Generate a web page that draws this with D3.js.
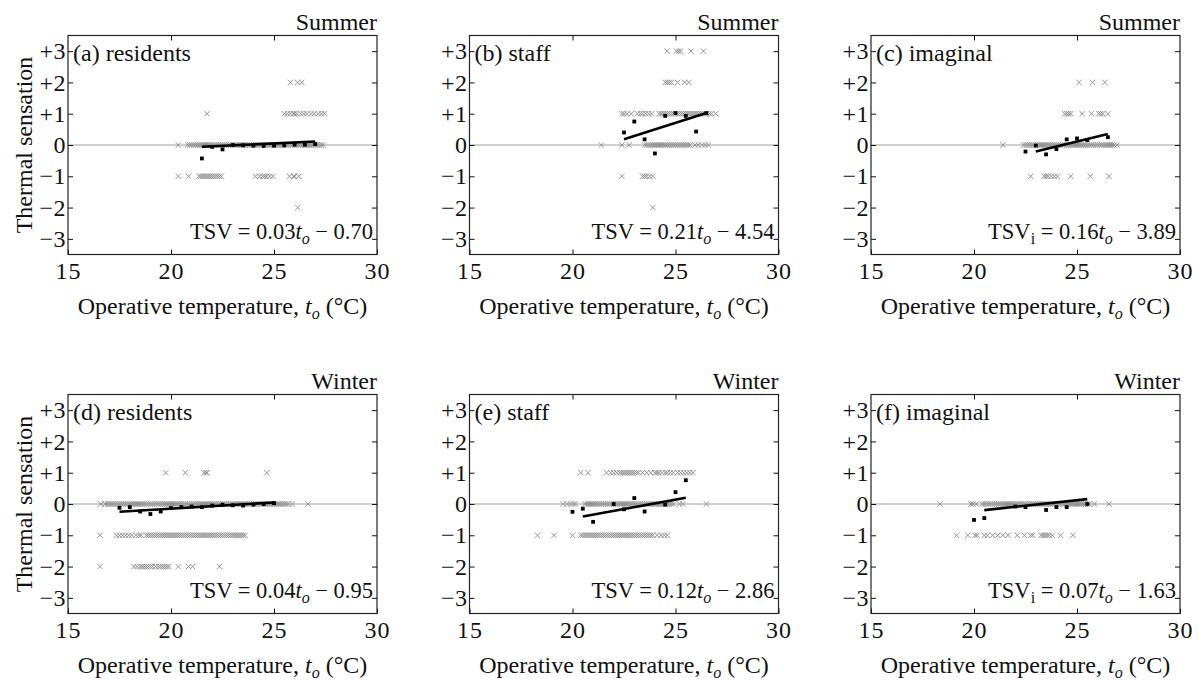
<!DOCTYPE html>
<html>
<head>
<meta charset="utf-8">
<script src="https://cdn.jsdelivr.net/npm/d3@7"></script>
<style>
  body { margin: 0; background: #fff; }
  svg { display: block; }
</style>
</head>
<body>
<svg id="chart" width="1199" height="681"></svg>
<script>
// ---- axes ----
const xTicks = [15, 20, 25, 30];
const xInnerTicks = [20, 25];
const yTicks = [-3, -2, -1, 0, 1, 2, 3];
const yTickLabels = ["\u22123", "\u22122", "\u22121", "0", "+1", "+2", "+3"];

// ---- individual votes: operative temperature (°C) of every vote, per vote level ----
// (a) summer, residents
const sumResP2 = [25.8, 26.15, 26.35];
const sumResP1 = [21.75, 25.5, 25.65, 25.8, 25.95, 26.0, 26.1, 26.3, 26.45, 26.6, 26.8, 26.95, 27.15, 27.3, 27.45];
const sumRes0 = [20.35, 20.8, 20.9, 21.0, 21.1, 21.2, 21.3, 21.4, 21.5, 21.6, 21.7, 21.8, 21.9, 22.0, 22.1, 22.2, 22.3, 22.4, 22.5, 22.6, 22.7, 22.8, 22.9, 23.0, 23.1, 23.2, 23.3, 23.4, 23.5, 23.6, 23.7, 23.8, 23.9, 24.0, 24.1, 24.2, 24.3, 24.4, 24.5, 24.6, 24.7, 24.8, 24.9, 25.0, 25.1, 25.2, 25.3, 25.4, 25.5, 25.6, 25.7, 25.8, 25.9, 26.0, 26.1, 26.2, 26.3, 26.4, 26.5, 26.6, 26.7, 26.8, 26.9, 27.0, 27.1, 27.2, 27.3, 27.4];
const sumResM1 = [20.35, 20.85, 21.35, 21.45, 21.55, 21.65, 21.75, 21.85, 21.95, 22.05, 22.15, 22.25, 22.35, 22.45, 24.1, 24.3, 24.45, 24.55, 24.65, 24.8, 24.95, 25.75, 25.95, 26.0, 26.2];
const sumResM2 = [26.15];

// (b) summer, staff
const sumStaP3 = [24.6, 25.05, 25.15, 25.25, 25.75, 26.35];
const sumStaP2 = [24.5, 24.6, 24.7, 24.8, 25.1, 25.45, 25.65];
const sumStaP1 = [22.4, 22.5, 22.65, 22.85, 23.15, 23.3, 23.4, 23.55, 23.7, 23.85, 24.2, 24.3, 24.4, 24.5, 24.6, 24.7, 24.8, 24.9, 25.0, 25.1, 25.2, 25.3, 25.4, 25.5, 25.6, 25.7, 25.8, 25.9, 26.0, 26.1, 26.2, 26.3, 26.4, 26.5, 26.65, 26.75, 26.95];
const sumSta0 = [21.4, 22.4, 22.75, 23.5, 23.6, 23.7, 23.8, 23.9, 24.0, 24.1, 24.2, 24.3, 24.4, 24.5, 24.6, 24.7, 24.8, 24.9, 25.0, 25.1, 25.2, 25.3, 25.4, 25.5, 25.6, 25.7, 25.95, 26.1, 26.3, 26.45, 26.6];
const sumStaM1 = [22.4, 23.4, 23.5, 23.6, 23.75, 23.9];
const sumStaM2 = [23.9];

// (c) summer, imaginal
const sumImgP2 = [25.1, 25.75, 26.35];
const sumImgP1 = [24.4, 24.5, 24.6, 24.7, 25.25, 25.7, 26.05, 26.15, 26.25, 26.5];
const sumImg0 = [21.4, 22.4, 22.5, 22.6, 22.7, 22.8, 22.9, 23.0, 23.1, 23.2, 23.3, 23.4, 23.5, 23.6, 23.7, 23.8, 23.9, 24.0, 24.1, 24.2, 24.3, 24.4, 24.5, 24.6, 24.7, 24.8, 24.9, 25.0, 25.1, 25.2, 25.3, 25.4, 25.5, 25.6, 25.7, 25.8, 25.9, 26.0, 26.1, 26.2, 26.3, 26.4, 26.5, 26.6, 26.7, 26.8, 26.95];
const sumImgM1 = [22.75, 23.4, 23.5, 23.6, 23.75, 23.9, 24.05, 24.7, 25.65, 26.55];

// (d) winter, residents
const winResP1 = [19.75, 20.7, 21.6, 21.7, 21.75, 24.65];
const winRes0 = [16.6, 16.8, 16.9, 17.0, 17.1, 17.2, 17.3, 17.4, 17.5, 17.6, 17.7, 17.8, 17.9, 18.0, 18.1, 18.2, 18.3, 18.4, 18.5, 18.6, 18.7, 18.8, 18.9, 19.0, 19.1, 19.2, 19.3, 19.4, 19.5, 19.6, 19.7, 19.8, 19.9, 20.0, 20.1, 20.2, 20.3, 20.4, 20.5, 20.6, 20.7, 20.8, 20.9, 21.0, 21.1, 21.2, 21.3, 21.4, 21.5, 21.6, 21.7, 21.8, 21.9, 22.0, 22.1, 22.2, 22.3, 22.4, 22.5, 22.6, 22.7, 22.8, 22.9, 23.0, 23.1, 23.2, 23.3, 23.4, 23.5, 23.6, 23.7, 23.8, 23.9, 24.0, 24.1, 24.2, 24.3, 24.4, 24.5, 24.6, 24.7, 24.8, 24.9, 25.0, 25.1, 25.2, 25.3, 25.4, 25.5, 25.6, 25.7, 25.9, 26.65];
const winResM1 = [16.55, 17.35, 17.5, 17.65, 17.8, 17.95, 18.1, 18.3, 18.45, 18.55, 18.8, 18.9, 19.0, 19.1, 19.2, 19.3, 19.4, 19.5, 19.6, 19.7, 19.8, 19.9, 20.0, 20.1, 20.2, 20.3, 20.4, 20.5, 20.6, 20.7, 20.8, 20.9, 21.0, 21.1, 21.2, 21.3, 21.4, 21.5, 21.6, 21.7, 21.8, 21.9, 22.0, 22.1, 22.2, 22.3, 22.4, 22.5, 22.6, 22.7, 22.8, 22.9, 23.0, 23.1, 23.2, 23.3, 23.4, 23.5, 23.6];
const winResM2 = [16.55, 18.2, 18.35, 18.5, 18.6, 18.7, 18.8, 18.9, 19.0, 19.1, 19.25, 19.4, 19.5, 19.6, 19.7, 19.8, 19.9, 20.35, 20.85, 21.05, 22.35];

// (e) winter, staff
const winStaP1 = [20.4, 20.75, 21.65, 21.85, 22.0, 22.15, 22.3, 22.4, 22.5, 22.6, 22.7, 22.8, 22.9, 23.0, 23.1, 23.2, 23.4, 23.6, 23.8, 24.0, 24.1, 24.2, 24.35, 24.5, 24.6, 24.75, 24.9, 25.1, 25.25, 25.4, 25.55, 25.7, 25.85];
const winSta0 = [19.55, 19.75, 19.9, 20.05, 20.15, 20.6, 20.7, 20.8, 20.9, 21.0, 21.1, 21.2, 21.3, 21.4, 21.5, 21.6, 21.7, 21.8, 21.9, 22.0, 22.1, 22.2, 22.3, 22.4, 22.5, 22.6, 22.7, 22.8, 22.9, 23.0, 23.1, 23.2, 23.3, 23.4, 23.5, 23.6, 23.7, 23.8, 23.9, 24.0, 24.1, 24.2, 24.3, 24.4, 24.5, 24.6, 24.7, 24.8, 24.9, 25.2, 25.35, 26.5];
const winStaM1 = [18.3, 19.1, 20.0, 20.4, 20.5, 20.6, 20.7, 20.8, 20.9, 21.0, 21.1, 21.2, 21.3, 21.4, 21.5, 21.6, 21.7, 21.8, 21.9, 22.0, 22.1, 22.2, 22.3, 22.4, 22.5, 22.6, 22.7, 22.8, 22.9, 23.0, 23.1, 23.2, 23.3, 23.4, 23.5, 23.6, 23.7, 23.8, 23.9, 24.1, 24.3, 24.45, 24.6];

// (f) winter, imaginal
const winImg0 = [18.35, 19.85, 19.95, 20.1, 20.4, 20.5, 20.6, 20.7, 20.8, 20.9, 21.0, 21.1, 21.2, 21.3, 21.4, 21.5, 21.6, 21.7, 21.8, 21.9, 22.0, 22.1, 22.2, 22.3, 22.4, 22.5, 22.6, 22.7, 22.8, 22.9, 23.0, 23.1, 23.2, 23.3, 23.4, 23.5, 23.6, 23.7, 23.8, 23.9, 24.0, 24.1, 24.2, 24.3, 24.4, 24.5, 24.6, 24.7, 24.8, 24.9, 25.0, 25.1, 25.2, 25.3, 25.4, 25.5, 25.6, 25.85, 26.55];
const winImgM1 = [19.15, 19.7, 20.05, 20.15, 20.5, 20.65, 20.9, 21.15, 21.4, 21.65, 22.1, 22.45, 22.75, 22.85, 23.25, 23.35, 23.45, 23.55, 23.65, 23.8, 24.2, 24.8];

// ---- mean vote per 0.5 °C bin ----
const sumResBinT = [21.5, 22, 22.5, 23, 23.5, 24, 24.5, 25, 25.5, 26, 26.5, 27];
const sumResBinV = [-0.43, -0.06, -0.14, 0.0, -0.01, -0.02, -0.03, -0.02, -0.01, 0.01, 0.01, 0.03];
const sumStaBinT = [22.5, 23, 23.5, 24, 24.5, 25, 25.5, 26, 26.5];
const sumStaBinV = [0.40, 0.75, 0.18, -0.27, 0.93, 1.02, 0.93, 0.43, 1.02];
const sumImgBinT = [22.5, 23, 23.5, 24, 24.5, 25, 25.5, 26.5];
const sumImgBinV = [-0.21, -0.02, -0.30, -0.13, 0.18, 0.21, 0.16, 0.25];
const winResBinT = [17.5, 18, 18.5, 19, 19.5, 20, 20.5, 21, 21.5, 22, 22.5, 23, 23.5, 24, 24.5, 25];
const winResBinV = [-0.12, -0.10, -0.24, -0.32, -0.24, -0.13, -0.10, -0.08, -0.10, -0.05, -0.02, -0.04, -0.05, -0.02, 0.0, 0.03];
const winStaBinT = [20, 20.5, 21, 22, 22.5, 23, 23.5, 24.5, 25, 25.5];
const winStaBinV = [-0.25, -0.15, -0.57, 0.0, -0.17, 0.19, -0.24, -0.02, 0.38, 0.76];
const winImgBinT = [20, 20.5, 22, 22.5, 23.5, 24, 24.5, 25.5];
const winImgBinV = [-0.51, -0.45, -0.08, -0.10, -0.19, -0.10, -0.10, 0.0];

// ---- regression lines: TSV = slope * to + intercept ----
const fitSlope = [0.03, 0.21, 0.16, 0.04, 0.12, 0.07];
const fitIntercept = [-0.70, -4.54, -3.89, -0.95, -2.86, -1.63];
const fitFrom = [21.5, 22.5, 23.0, 17.5, 20.5, 20.5];
const fitTo = [27.0, 26.5, 26.5, 25.0, 25.5, 25.5];

const panelLabels = ["(a) residents", "(b) staff", "(c) imaginal", "(d) residents", "(e) staff", "(f) imaginal"];
const seasons = ["Summer", "Summer", "Summer", "Winter", "Winter", "Winter"];
const imaginal = [false, false, true, false, false, true];

const votes = [
  [[2, sumResP2], [1, sumResP1], [0, sumRes0], [-1, sumResM1], [-2, sumResM2]],
  [[3, sumStaP3], [2, sumStaP2], [1, sumStaP1], [0, sumSta0], [-1, sumStaM1], [-2, sumStaM2]],
  [[2, sumImgP2], [1, sumImgP1], [0, sumImg0], [-1, sumImgM1]],
  [[1, winResP1], [0, winRes0], [-1, winResM1], [-2, winResM2]],
  [[1, winStaP1], [0, winSta0], [-1, winStaM1]],
  [[0, winImg0], [-1, winImgM1]]
];
const binT = [sumResBinT, sumStaBinT, sumImgBinT, winResBinT, winStaBinT, winImgBinT];
const binV = [sumResBinV, sumStaBinV, sumImgBinV, winResBinV, winStaBinV, winImgBinV];

// ---- layout ----
const W = 309, H = 219;
const colX = [68, 469.5, 871];
const rowY = [35.5, 394.5];
const FONT = "'Liberation Serif', 'Times New Roman', Times, serif";
const FS = 24;      // labels and titles
const FS_EQ = 22.5; // regression equations
const FS_TICK = 24;

const svg = d3.select("#chart");
svg.append("rect").attr("width", 1199).attr("height", 681).attr("fill", "#fff");

const x = d3.scaleLinear().domain([15, 30]).range([0, W]);
const y = d3.scaleLinear().domain([-3.5, 3.5]).range([H, 0]);

const crossPath = "M-2.7,-2.7L2.7,2.7M-2.7,2.7L2.7,-2.7";

// Adds "t" with italic subscript "o" to a text element
function addTo(text) {
  text.append("tspan").attr("font-style", "italic").text("t");
  text.append("tspan").attr("font-style", "italic").attr("font-size", 16).attr("dy", 5).text("o");
}

for (let i = 0; i < 6; i++) {
  const col = i % 3, row = Math.floor(i / 3);
  const g = svg.append("g").attr("transform", `translate(${colX[col]},${rowY[row]})`);

  // zero reference line
  g.append("line")
    .attr("x1", 0).attr("x2", W)
    .attr("y1", y(0)).attr("y2", y(0))
    .attr("stroke", "#a0a0a0").attr("stroke-width", 1);

  // individual votes
  const pts = [];
  votes[i].forEach(([v, ts]) => ts.forEach(t => pts.push({ t, v })));
  g.append("g").selectAll("path").data(pts).join("path")
    .attr("d", crossPath)
    .attr("transform", d => `translate(${x(d.t)},${y(d.v)})`)
    .attr("fill", "none")
    .attr("stroke", "#8a8a8a")
    .attr("stroke-width", 0.9);

  // regression line
  const fit = t => fitSlope[i] * t + fitIntercept[i];
  g.append("line")
    .attr("x1", x(fitFrom[i])).attr("y1", y(fit(fitFrom[i])))
    .attr("x2", x(fitTo[i])).attr("y2", y(fit(fitTo[i])))
    .attr("stroke", "#000").attr("stroke-width", 2.6).attr("stroke-linecap", "butt");

  // bin means
  const means = binT[i].map((t, k) => ({ t, v: binV[i][k] }));
  g.append("g").selectAll("rect").data(means).join("rect")
    .attr("x", d => x(d.t) - 1.9).attr("y", d => y(d.v) - 1.9)
    .attr("width", 3.8).attr("height", 3.8)
    .attr("fill", "#000");

  // ticks
  const yl = g.append("g").call(d3.axisLeft(y).tickValues(yTicks).tickSizeInner(-5).tickSizeOuter(0)
    .tickPadding(2).tickFormat((d, k) => yTickLabels[k]));
  const yr = g.append("g").attr("transform", `translate(${W},0)`)
    .call(d3.axisRight(y).tickValues(yTicks).tickSizeInner(-5).tickSizeOuter(0).tickFormat(""));
  const xt = g.append("g")
    .call(d3.axisTop(x).tickValues(xInnerTicks).tickSizeInner(-5).tickSizeOuter(0).tickFormat(""));
  const xb = g.append("g").attr("transform", `translate(0,${H})`)
    .call(d3.axisBottom(x).tickValues(xTicks).tickSizeInner(-5).tickSizeOuter(0).tickPadding(7));
  [yl, yr, xt, xb].forEach(a => {
    a.select(".domain").remove();
    a.attr("font-family", FONT).attr("font-size", FS_TICK);
    a.selectAll(".tick line").attr("stroke", "#111");
    a.selectAll(".tick text").attr("fill", "#111");
  });
  yl.selectAll(".tick text").attr("letter-spacing", 0.5);
  xb.selectAll(".tick text").attr("letter-spacing", 1);

  // frame
  g.append("rect").attr("width", W).attr("height", H)
    .attr("fill", "none").attr("stroke", "#222").attr("stroke-width", 1.2);

  // season
  g.append("text").attr("x", W).attr("y", -6).attr("text-anchor", "end")
    .attr("font-family", FONT).attr("font-size", FS).attr("fill", "#111")
    .text(seasons[i]);

  // panel label
  g.append("text").attr("x", 5).attr("y", 25)
    .attr("font-family", FONT).attr("font-size", FS).attr("fill", "#111")
    .text(panelLabels[i]);

  // equation
  const eq = g.append("text").attr("x", W - 4).attr("y", H - 16).attr("text-anchor", "end")
    .attr("font-family", FONT).attr("font-size", FS_EQ).attr("fill", "#111");
  eq.append("tspan").text("TSV");
  if (imaginal[i]) {
    eq.append("tspan").attr("font-size", 16).attr("dy", 5).text("i");
    eq.append("tspan").attr("dy", -5).text(" = " + fitSlope[i].toFixed(2));
  } else {
    eq.append("tspan").text(" = " + fitSlope[i].toFixed(2));
  }
  addTo(eq);
  eq.append("tspan").attr("dy", -5).text(" \u2212 " + Math.abs(fitIntercept[i]).toFixed(2));

  // x axis title
  const xt2 = g.append("text").attr("x", W / 2).attr("y", H + 59).attr("text-anchor", "middle")
    .attr("font-family", FONT).attr("font-size", FS).attr("fill", "#111");
  xt2.append("tspan").text("Operative temperature, ");
  addTo(xt2);
  xt2.append("tspan").attr("dy", -5).text(" (\u00B0C)");

  // y axis title
  if (col === 0) {
    g.append("text").attr("transform", `translate(-36,${H / 2}) rotate(-90)`)
      .attr("text-anchor", "middle")
      .attr("font-family", FONT).attr("font-size", 24).attr("fill", "#111")
      .text("Thermal sensation");
  }
}
</script>
</body>
</html>
